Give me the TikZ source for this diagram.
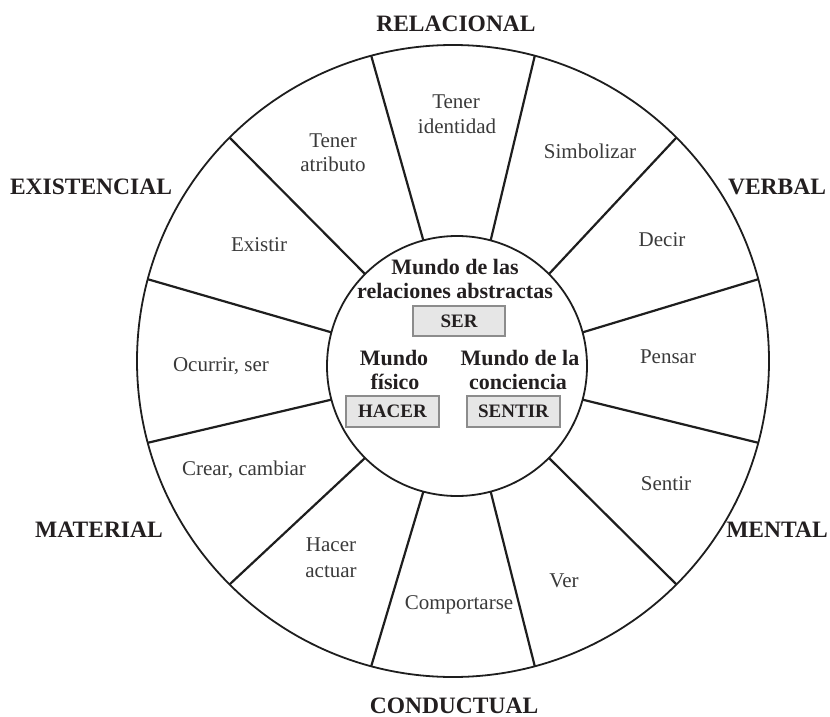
\documentclass[tikz,border=0pt]{standalone}
\usepackage{fontspec}
\setmainfont{Liberation Serif}
\definecolor{linec}{HTML}{1E1E1E}
\definecolor{labc}{HTML}{231F20}
\definecolor{txtc}{HTML}{3A3A3A}
\definecolor{boxfill}{HTML}{E6E6E6}
\definecolor{boxline}{HTML}{8C8C8C}
\begin{document}
\begin{tikzpicture}[x=1pt,y=-1pt,
  rim/.style={draw=linec, line width=1.8pt, circle, inner sep=0pt, outer sep=0pt},
  spoke/.style={draw=linec, line width=2.2pt},
  procname/.style={font=\fontsize{23.5}{26}\selectfont\bfseries, text=labc, anchor=base, inner sep=0pt},
  verb/.style={font=\fontsize{21}{24}\selectfont, text=txtc, anchor=base, inner sep=0pt},
  world/.style={font=\fontsize{22}{24}\selectfont\bfseries, text=labc, anchor=base, inner sep=0pt},
  keybox/.style={draw=boxline, fill=boxfill, line width=2pt, minimum width=92pt, minimum height=30pt,
    inner sep=0pt, font=\fontsize{19}{22}\selectfont\bfseries, text=labc}
]
\useasboundingbox (0,0) rectangle (830,717);

% wheel: outer rim and central hub
\node[rim, minimum size=632pt] (outer) at (453,361) {};
\node[rim, minimum size=260pt] (hub) at (457,366) {};

% twelve spokes
\foreach \a [count=\i] in {15,45,...,345}
  \draw[spoke] (outer.\a) -- (hub.\a);

% process types round the wheel
\node[procname] (relacional)  at (456,32)  {RELACIONAL};
\node[procname] (existencial) at (91,194)  {EXISTENCIAL};
\node[procname] (verbal)      at (777,194) {VERBAL};
\node[procname] (mental)      at (777,537) {MENTAL};
\node[procname] (material)    at (99,537)  {MATERIAL};
\node[procname] (conductual)  at (454,713) {CONDUCTUAL};

% verbs in the sectors
\node[verb] (identA)  at (456,108) {Tener};
\node[verb] (identB)  at (457,133) {identidad};
\node[verb] (simb)    at (590,158) {Simbolizar};
\node[verb] (decir)   at (662,246) {Decir};
\node[verb] (pensar)  at (668,363) {Pensar};
\node[verb] (sentir)  at (666,490) {Sentir};
\node[verb] (ver)     at (564,587) {Ver};
\node[verb] (comp)    at (459,609) {Comportarse};
\node[verb] (hacerA)  at (331,551) {Hacer};
\node[verb] (hacerB)  at (331,577) {actuar};
\node[verb] (crear)   at (244,475) {Crear, cambiar};
\node[verb] (ocurrir) at (221,371) {Ocurrir, ser};
\node[verb] (existir) at (259,251) {Existir};
\node[verb] (atribA)  at (333,147) {Tener};
\node[verb] (atribB)  at (333,171) {atributo};

% the three worlds in the hub
\node[world] (absA) at (455,274) {Mundo de las};
\node[world] (absB) at (455,298) {relaciones abstractas};
\node[keybox] (ser) at (459,321) {SER};
\node[world] (fisA) at (394,365) {Mundo};
\node[world] (fisB) at (395,389) {físico};
\node[keybox, minimum width=93pt, minimum height=31pt] (hacer) at (392.5,411.5) {HACER};
\node[world] (concA) at (520,365) {Mundo de la};
\node[world] (concB) at (518,389) {conciencia};
\node[keybox, minimum width=93pt, minimum height=31pt] (sentirbox) at (513.5,411.5) {SENTIR};
\end{tikzpicture}
\end{document}
